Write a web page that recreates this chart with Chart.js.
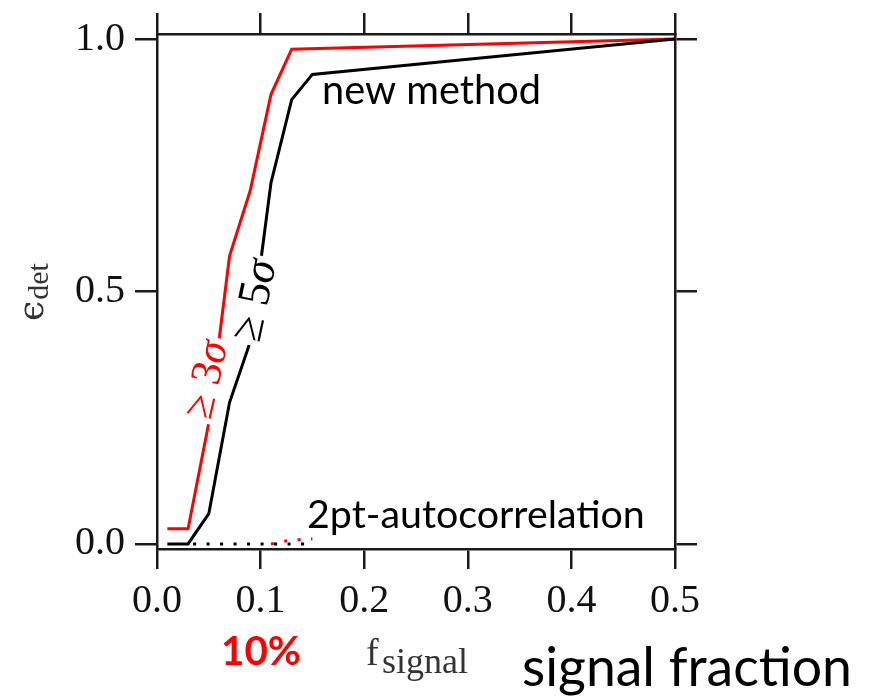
<!DOCTYPE html>
<html lang="en">
<head>
<meta charset="UTF-8" />
<title>Detection efficiency vs signal fraction</title>
<script src="https://cdn.jsdelivr.net/npm/chart.js"></script>
<style>
  body { margin: 0; background: #fff; }
  #wrap { width: 869px; height: 696px; }
</style>
</head>
<body>
<div id="wrap"><canvas id="effChart" width="869" height="696"></canvas></div>
<script>
// values
const fracRed   = [0.01, 0.03, 0.05, 0.07, 0.09, 0.11, 0.13, 0.50];
const effRed    = [0.03, 0.03, 0.24, 0.57, 0.70, 0.89, 0.98, 1.00];
const fracBlack = [0.01, 0.03, 0.05, 0.07, 0.09, 0.11, 0.13, 0.15, 0.30, 0.50];
const effBlack  = [0.00, 0.00, 0.06, 0.28, 0.40, 0.715, 0.88, 0.93, 0.96, 1.00];
const frac2ptBlack = [0.03, 0.15];
const eff2ptBlack  = [0.00, 0.00];
const frac2ptRed   = [0.11, 0.13, 0.15];
const eff2ptRed    = [0.00, 0.008, 0.01];
const xTicks = [0.0, 0.1, 0.2, 0.3, 0.4, 0.5];
const yTicks = [0.0, 0.5, 1.0];

const pts = (xs, ys) => xs.map((x, i) => ({ x: x, y: ys[i] }));
const ink = '#1a1a1a';
const serif = 'Liberation Serif';
const sans = 'Lato';

function fitSize(ctx, text, font, width) {
  ctx.font = font.replace('SIZE', '100px');
  return 100 * width / ctx.measureText(text).width;
}

// [text, colour, anchor x, anchor y (data units), angle, length px]
const sigmaLabels = [
  ['≥ 3', '#ff0000', 0.049, 0.325, -77, 80],
  ['≥ 5', '#000', 0.0955, 0.482, -78, 84]
];

const labels = {
  id: 'labels',
  afterDatasetsDraw(chart) {
    const ctx = chart.ctx;
    ctx.save();
    ctx.fillStyle = '#000';
    ctx.textAlign = 'left';
    ctx.textBaseline = 'alphabetic';
    let s = fitSize(ctx, 'new method', 'SIZE ' + sans, 219);
    ctx.font = s + 'px ' + sans;
    ctx.fillText('new method', 322, 104);
    s = fitSize(ctx, '2pt-autocorrelation', 'SIZE ' + sans, 338);
    ctx.font = s + 'px ' + sans;
    ctx.fillText('2pt-autocorrelation', 307, 528);

    // rotated sigma labels sitting on the curves: white gaps first, then text
    const xs = chart.scales.x, ys = chart.scales.y;
    const items = sigmaLabels.map(l => {
      const size = fitSize(ctx, l[0] + 'σ', 'SIZE ' + serif, l[5]);
      ctx.font = size + 'px ' + serif;
      const w1 = ctx.measureText(l[0]).width;
      ctx.font = 'italic ' + size + 'px ' + serif;
      const w2 = ctx.measureText('σ').width;
      return { l, size, w1, w: w1 + w2, cx: xs.getPixelForValue(l[2]), cy: ys.getPixelForValue(l[3]) };
    });
    items.forEach(it => {
      ctx.save();
      ctx.translate(it.cx, it.cy);
      ctx.rotate(it.l[4] * Math.PI / 180);
      ctx.fillStyle = '#fff';
      ctx.fillRect(-it.w / 2 - 4, -it.size * 0.4, it.w + 8, it.size * 0.8);
      ctx.restore();
    });
    items.forEach(it => {
      ctx.save();
      ctx.translate(it.cx, it.cy);
      ctx.rotate(it.l[4] * Math.PI / 180);
      ctx.fillStyle = it.l[1];
      ctx.textBaseline = 'middle';
      ctx.font = it.size + 'px ' + serif;
      ctx.fillText(it.l[0], -it.w / 2, 0);
      ctx.font = 'italic ' + it.size + 'px ' + serif;
      ctx.fillText('σ', -it.w / 2 + it.w1, 0);
      ctx.restore();
    });
    ctx.restore();
  },
  afterDraw(chart) {
    const ctx = chart.ctx;
    ctx.save();
    // y axis title
    ctx.translate(43, 321);
    ctx.rotate(-Math.PI / 2);
    ctx.fillStyle = '#333';
    ctx.textBaseline = 'alphabetic';
    ctx.font = '36px "DejaVu Serif"';
    ctx.fillText('ϵ', 0, 0);
    const we = ctx.measureText('ϵ').width;
    ctx.font = '30px ' + serif;
    ctx.fillText('det', we + 1, 5);
    ctx.restore();

    ctx.save();
    ctx.textBaseline = 'alphabetic';
    ctx.fillStyle = '#ff0000';
    let s = fitSize(ctx, '10%', 'bold SIZE ' + sans, 80);
    ctx.font = 'bold ' + s + 'px ' + sans;
    ctx.fillText('10%', 221, 665);

    ctx.fillStyle = '#333';
    ctx.font = '38px ' + serif;
    ctx.fillText('f', 366, 665);
    s = fitSize(ctx, 'signal', 'SIZE ' + serif, 86);
    ctx.font = s + 'px ' + serif;
    ctx.fillText('signal', 382, 673);

    ctx.fillStyle = '#000';
    s = fitSize(ctx, 'signal fraction', 'SIZE ' + sans, 330);
    ctx.font = s + 'px ' + sans;
    ctx.fillText('signal fraction', 522, 686);
    ctx.restore();
  }
};

function gridOpts(len) {
  return { drawOnChartArea: false, drawTicks: true, tickLength: len, color: ink, lineWidth: 2.5 };
}
const borderOpts = { display: true, color: ink, width: 2.5 };

new Chart(document.getElementById('effChart'), {
  type: 'line',
  data: {
    datasets: [
      { data: pts(frac2ptBlack, eff2ptBlack), borderColor: '#000', borderWidth: 3, borderDash: [3, 10.5], borderDashOffset: -5 },
      { data: pts(frac2ptRed, eff2ptRed), borderColor: 'red', borderWidth: 3, borderDash: [3, 10.5], borderDashOffset: 0 },
      { data: pts(fracBlack, effBlack), borderColor: '#000', borderWidth: 3 },
      { data: pts(fracRed, effRed), borderColor: '#ff0000', borderWidth: 3 }
    ]
  },
  options: {
    responsive: false,
    animation: false,
    events: [],
    layout: { padding: 0 },
    elements: { point: { radius: 0 }, line: { tension: 0, fill: false } },
    plugins: { legend: { display: false }, tooltip: { enabled: false } },
    scales: {
      x: {
        type: 'linear', position: 'bottom', min: 0, max: 0.5,
        afterBuildTicks: s => { s.ticks = xTicks.map(v => ({ value: v })); },
        afterFit: s => { s.height = 147; },
        grid: gridOpts(20), border: borderOpts,
        ticks: { font: { family: serif, size: 40 }, color: '#111', padding: 8, maxRotation: 0, autoSkip: false,
                 callback: v => v.toFixed(1) }
      },
      xTop: {
        type: 'linear', position: 'top', min: 0, max: 0.5, display: true,
        afterBuildTicks: s => { s.ticks = xTicks.map(v => ({ value: v })); },
        afterFit: s => { s.height = 30; },
        grid: gridOpts(21), border: borderOpts,
        ticks: { display: false }
      },
      y: {
        type: 'linear', position: 'left', min: -0.01, max: 1.01,
        afterBuildTicks: s => { s.ticks = yTicks.map(v => ({ value: v })); },
        afterFit: s => { s.width = 157; },
        grid: gridOpts(22), border: borderOpts,
        ticks: { font: { family: serif, size: 40 }, color: '#111', padding: 10,
                 callback: v => v.toFixed(1) }
      },
      yRight: {
        type: 'linear', position: 'right', min: -0.01, max: 1.01, display: true,
        afterBuildTicks: s => { s.ticks = yTicks.map(v => ({ value: v })); },
        afterFit: s => { s.width = 194; },
        grid: gridOpts(22), border: borderOpts,
        ticks: { display: false }
      }
    }
  },
  plugins: [labels]
});
</script>
</body>
</html>
